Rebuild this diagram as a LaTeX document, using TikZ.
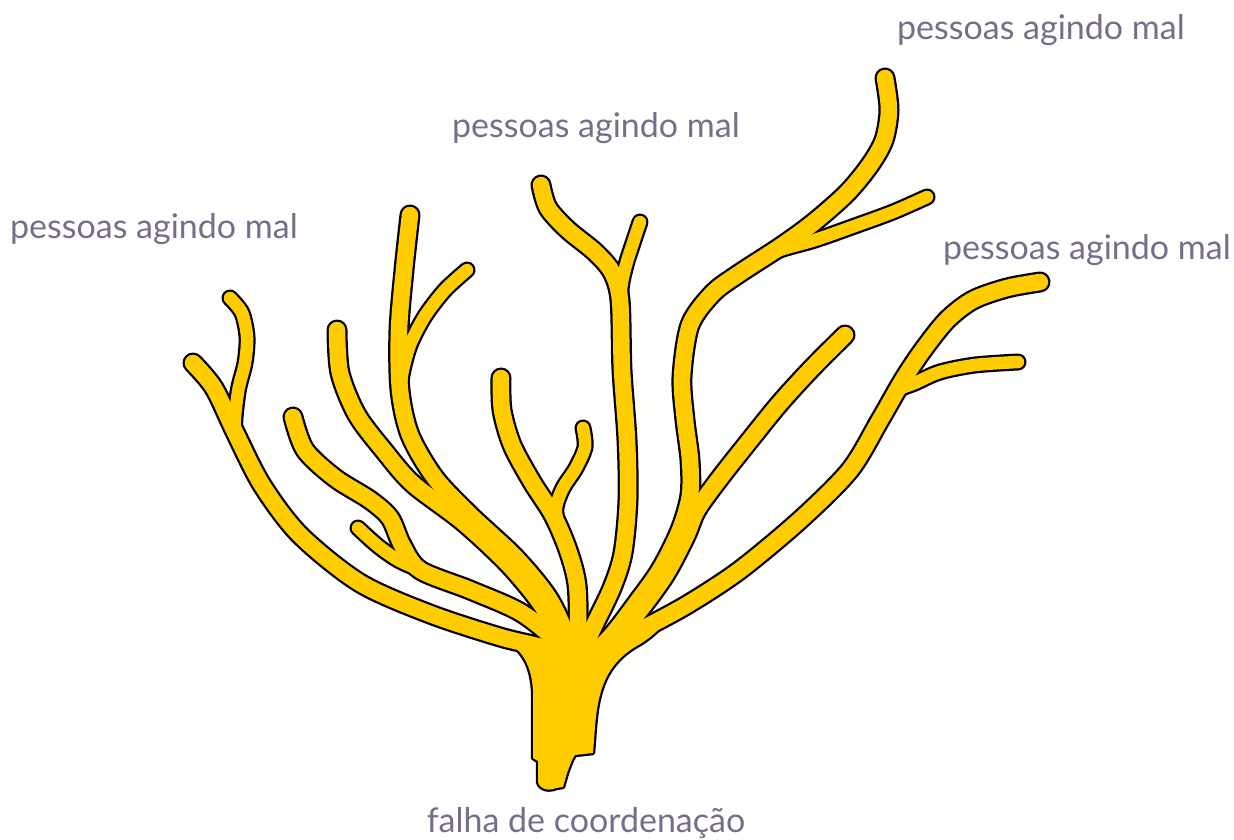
\documentclass[tikz,border=0pt]{standalone}
\usepackage{fontspec}
\setmainfont{Lato}
\definecolor{gold}{RGB}{255,204,0}
\definecolor{slate}{RGB}{113,112,138}
\tikzset{
  rim/.style={draw=black, line cap=round, line join=round},
  pulp/.style={draw=gold, line cap=round, line join=round},
  caption/.style={text=slate, font=\fontsize{34}{40}\selectfont, inner sep=0pt}
}
% #1 look, #2 limb width, #3 twig width
\newcommand\branches[3]{%
  \draw[#1, line width=#2] plot[smooth] coordinates {(193,363) (214,388) (235,432) (262,485) (300,535) (360,583) (430,614) (500,637) (550,650) (572,668)};
  \draw[#1, line width=#3] plot[smooth] coordinates {(230,298) (242,313) (247,337) (245,363) (238,392) (235,432) (248,458)};
  \draw[#1, line width=#2] plot[smooth] coordinates {(293,417) (305,450) (335,478) (370,500) (390,518) (402,545) (420,570) (470,590) (520,612) (555,640) (572,668)};
  \draw[#1, line width=#3] plot[smooth] coordinates {(358,528) (378,546) (398,560) (420,570) (445,580)};
  \draw[#1, line width=#2] plot[smooth] coordinates {(337,330) (340,373) (357,415) (385,452) (413,484) (463,522) (508,564) (541,604) (560,640) (572,668)};
  \draw[#1, line width=#2] plot[smooth] coordinates {(410,215) (404,270) (399,330) (400,390) (410,435) (435,478) (470,515) (515,557) (548,597) (566,635) (572,668)};
  \draw[#1, line width=#3] plot[smooth] coordinates {(467,270) (445,290) (425,316) (410,345) (402,375) (400,400)};
  \draw[#1, line width=#2] plot[smooth] coordinates {(501,378) (502,410) (512,445) (532,482) (553,515) (568,550) (577,585) (578,635) (574,668)};
  \draw[#1, line width=#3] plot[smooth] coordinates {(583,428) (585,447) (576,468) (563,488) (556,508) (559,530) (568,552) (577,585)};
  \draw[#1, line width=#2] plot[smooth] coordinates {(541,185) (548,208) (568,230) (595,252) (612,272) (620,300) (622,370) (627,440) (628,500) (623,553) (612,588) (592,630) (576,668)};
  \draw[#1, line width=#3] plot[smooth] coordinates {(640,222) (633,243) (626,265) (621,290) (621,330)};
  \draw[#1, line width=#2] plot[smooth] coordinates {(885,78) (889,110) (884,140) (870,165) (847,193) (813,223) (780,247) (740,273) (713,293) (690,325) (682,377) (685,420) (690,460) (690,495) (680,530) (660,570) (635,605) (612,635) (580,668)};
  \draw[#1, line width=#3] plot[smooth] coordinates {(927,197) (893,212) (852,227) (815,240) (780,250) (760,260)};
  \draw[#1, line width=#2] plot[smooth] coordinates {(845,335) (812,368) (780,403) (750,440) (720,478) (697,510) (686,536) (666,574) (640,610) (614,640) (582,668)};
  \draw[#1, line width=#2] plot[smooth] coordinates {(1040,282) (1007,288) (973,300) (947,320) (923,350) (903,380) (880,420) (850,470) (800,520) (740,570) (690,603) (650,625) (615,642) (585,668)};
  \draw[#1, line width=#3] plot[smooth] coordinates {(1018,362) (975,365) (940,372) (915,383) (896,392) (880,420)};
}
\newcommand\trunk[1]{%
  \path[#1] (500,638) .. controls (518,646) and (531,660) .. (533,690) -- (533,758) -- (538,761) -- (538,782)
    .. controls (540,790) and (550,791) .. (556,788) -- (563,787) -- (567,773) -- (572,760) -- (575,755)
    -- (593,753) -- (595,727) .. controls (598,690) and (606,665) .. (635,647)
    .. controls (648,640) and (660,630) .. (672,614)
    -- (640,632) -- (600,650) -- (560,656) -- (520,645) -- cycle;
}
\begin{document}
\begin{tikzpicture}[x=1pt, y=-1pt]
  \useasboundingbox (0,0) rectangle (1234,840);

  \branches{rim}{21pt}{17pt}
  \trunk{fill=gold, draw=black, line width=4.5pt, line join=round}
  \branches{pulp}{16.5pt}{12.5pt}
  \trunk{fill=gold}

  \node[caption] (malfar) at (1041,30) {pessoas agindo mal};
  \node[caption] (malmid) at (596,128) {pessoas agindo mal};
  \node[caption] (malleft) at (154,229) {pessoas agindo mal};
  \node[caption] (malright) at (1087,250) {pessoas agindo mal};
  \node[caption] (falha) at (586,823) {falha de coordenação};
\end{tikzpicture}
\end{document}
